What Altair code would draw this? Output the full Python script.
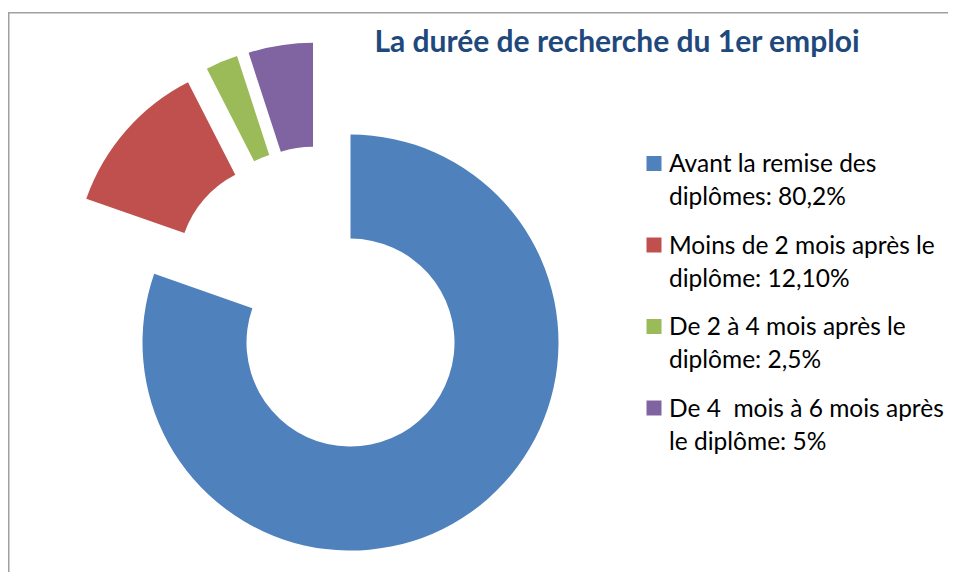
import altair as alt
import pandas as pd

categories = [
    "Avant la remise des diplômes",
    "Moins de 2 mois après le diplôme",
    "De 2 à 4 mois après le diplôme",
    "De 4  mois à 6 mois après le diplôme",
]
values = [80.2, 12.1, 2.5, 5.0]
legend_labels = [
    "Avant la remise des\ndiplômes: 80,2%",
    "Moins de 2 mois après le\ndiplôme: 12,10%",
    "De 2 à 4 mois après le\ndiplôme: 2,5%",
    "De 4 \u00a0mois à 6 mois après\nle diplôme: 5%",
]
colors = ["#4F81BD", "#C0504D", "#9BBB59", "#8064A2"]
title_text = "La durée de recherche du 1er emploi"

df = pd.DataFrame({
    "cat": categories,
    "value": values,
    "label": legend_labels,
    "order": list(range(len(categories))),
})

# layout constants (pixels, chart coordinates)
CX, CY = 313, 293       # true centre of the doughnut
EXPLODE = 51            # explosion distance of every slice
R_OUT, R_IN = 208, 104

color_scale = alt.Scale(domain=categories, range=colors)

base = alt.Chart(df)

arcs = base.transform_window(
    cum="sum(value)", sort=[alt.SortField("order")]
).transform_joinaggregate(
    total="sum(value)"
).transform_calculate(
    t1="2*PI*datum.cum/datum.total",
    t0="2*PI*(datum.cum-datum.value)/datum.total",
).transform_calculate(
    mid="(datum.t0+datum.t1)/2"
).transform_calculate(
    cx=f"{CX}+{EXPLODE}*sin(datum.mid)",
    cy=f"{CY}-{EXPLODE}*cos(datum.mid)",
).mark_arc(radius=R_OUT, radius2=R_IN, stroke=None).encode(
    x=alt.X("cx:Q", scale=None, axis=None),
    y=alt.Y("cy:Q", scale=None, axis=None),
    theta=alt.Theta("t0:Q", scale=None),
    theta2="t1:Q",
    color=alt.Color("cat:N", scale=color_scale, legend=None),
)

leg_sq = base.transform_calculate(
    ly="155.5 + 81.5*datum.order"
).mark_square(size=225, opacity=1).encode(
    x=alt.value(646),
    y=alt.Y("ly:Q", scale=None, axis=None),
    color=alt.Color("cat:N", scale=color_scale, legend=None),
)

leg_txt = base.transform_calculate(
    ly="164 + 81.5*datum.order"
).mark_text(
    align="left", baseline="alphabetic", font="Lato", fontSize=24.5,
    lineBreak="\n", lineHeight=33, color="#000000",
).encode(
    x=alt.value(661),
    y=alt.Y("ly:Q", scale=None, axis=None),
    text="label:N",
)

title = alt.Chart(pd.DataFrame({"t": [title_text]})).mark_text(
    align="center", baseline="alphabetic", font="Lato", fontSize=30,
    fontWeight="bold", color="#1F497D",
).encode(x=alt.value(609), y=alt.value(44), text="t:N")

border_v = alt.Chart(pd.DataFrame({"a": [0]})).mark_rule(
    color="#A0A0A0", strokeWidth=1.5
).encode(x=alt.value(0.75), y=alt.value(4), y2=alt.value(600))
border_h = alt.Chart(pd.DataFrame({"a": [0]})).mark_rule(
    color="#A0A0A0", strokeWidth=1.5
).encode(x=alt.value(0), x2=alt.value(960), y=alt.value(4.75))

chart = alt.layer(border_v, border_h, arcs, leg_sq, leg_txt, title).properties(
    width=940, height=564, padding=0,
    autosize=alt.AutoSizeParams(type="none"),
).configure_view(stroke=None)

chart.save("out.html", embed_options={"renderer": "svg", "actions": False})
